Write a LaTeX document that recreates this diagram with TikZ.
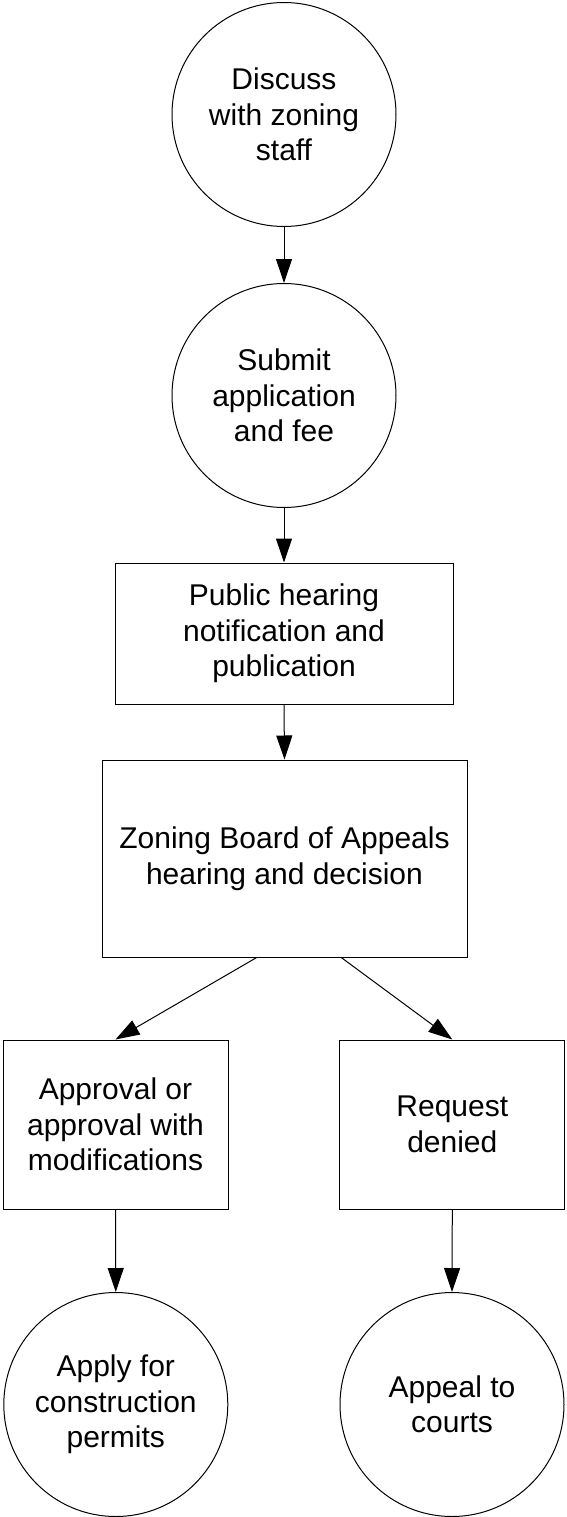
\documentclass[tikz,border=0pt]{standalone}
\usepackage{fontspec}
\setmainfont{Liberation Sans}
\usetikzlibrary{arrows.meta,calc}
\begin{document}
\begin{tikzpicture}[x=1pt,y=-1pt,
  label text/.style={font=\fontsize{30}{35.5}\selectfont, align=center},
  stepcircle/.style={label text, draw, line width=1pt, circle, inner sep=0pt, minimum size=224pt},
  stepbox/.style={label text, draw, line width=1pt, rectangle, inner sep=0pt},
  flow/.style={-{Triangle[length=24pt,width=16pt]}, line width=1pt}
]
\useasboundingbox (0,0) rectangle (566,1517);

% process steps
\node[stepcircle] (discuss) at (284,114.5) {Discuss\\with zoning\\staff};
\node[stepcircle] (submit) at (284,395.5) {Submit\\application\\and fee};
\node[stepbox, minimum width=338pt, minimum height=141pt] (notice) at (284,633.5)
  {Public hearing\\notification and\\publication};
\node[stepbox, minimum width=365pt, minimum height=197pt] (zba) at (284.5,858.5)
  {Zoning Board of Appeals\\hearing and decision};
\node[stepbox, minimum width=225pt, minimum height=169pt] (approve) at (115.5,1124.5)
  {Approval or\\approval with\\modifications};
\node[stepbox, minimum width=225pt, minimum height=169pt] (deny) at (452.3,1124.5)
  {Request\\denied};
\node[stepcircle] (permits) at (115.8,1404.5) {Apply for\\construction\\permits};
\node[stepcircle] (courts) at (452,1404.5) {Appeal to\\courts};

% connectors
\draw[flow] (discuss.south) -- (submit.north);
\draw[flow] (submit.south) -- (notice.north);
\draw[flow] (notice.south) -- (zba.north);
\draw[flow] ($(zba.south west)!0.424!(zba.south east)$) -- (approve.north);
\draw[flow] ($(zba.south west)!0.655!(zba.south east)$) -- (deny.north);
\draw[flow] (approve.south) -- (permits.north);
\draw[flow] (deny.south) -- (courts.north);
\end{tikzpicture}
\end{document}
